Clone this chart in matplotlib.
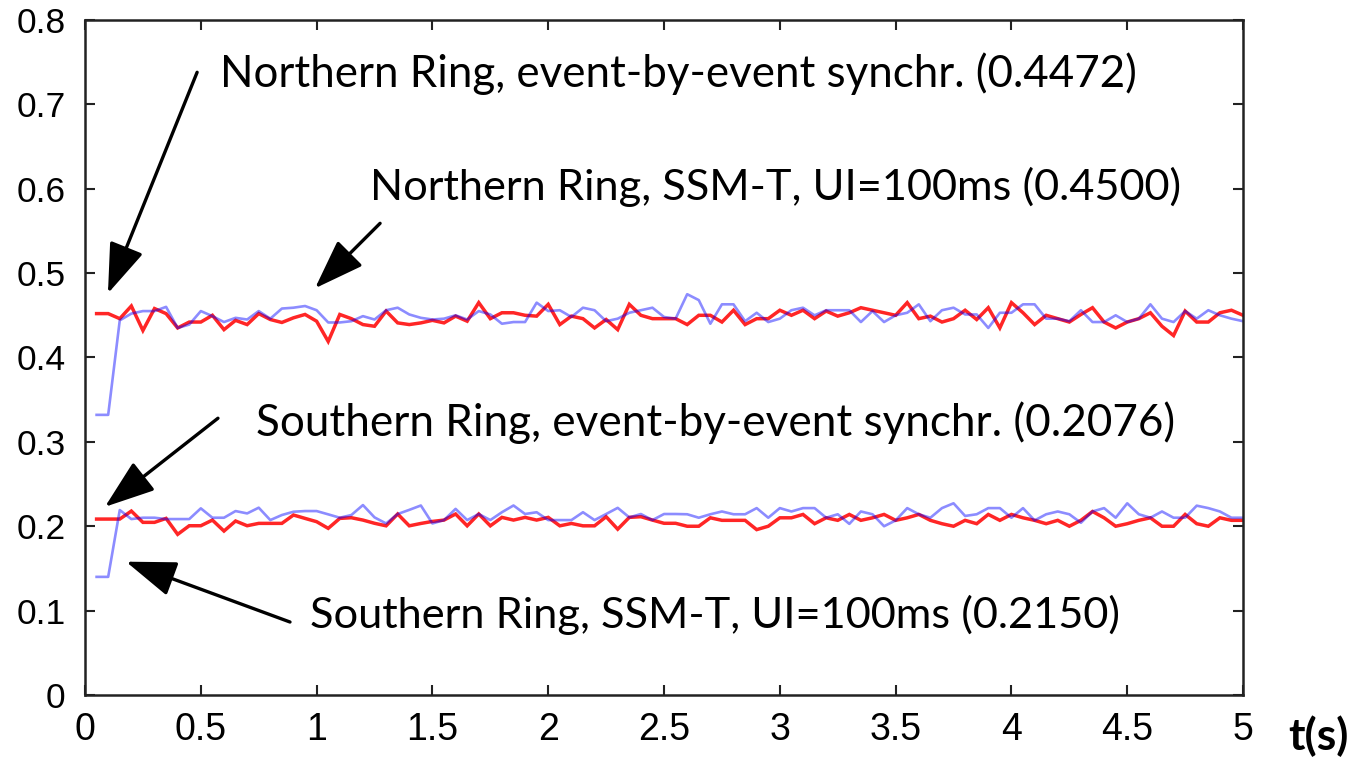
import numpy as np
import matplotlib
matplotlib.use("Agg")
import matplotlib.pyplot as plt

# time axis: samples every 0.05 s
t = np.arange(1, 101) * 0.05

north_event = [
    0.452, 0.452, 0.446, 0.461, 0.432, 0.458, 0.452, 0.435, 0.442, 0.442,
    0.450, 0.433, 0.444, 0.439, 0.452, 0.445, 0.4415, 0.447, 0.451, 0.443,
    0.419, 0.451, 0.446, 0.439, 0.437, 0.455, 0.441, 0.439, 0.441, 0.444,
    0.441, 0.449, 0.443, 0.465, 0.446, 0.453, 0.453, 0.450, 0.449, 0.463,
    0.439, 0.449, 0.446, 0.435, 0.445, 0.433, 0.463, 0.450, 0.446, 0.446,
    0.446, 0.439, 0.450, 0.450, 0.442, 0.456, 0.439, 0.446, 0.446, 0.456,
    0.450, 0.456, 0.446, 0.455, 0.449, 0.453, 0.459, 0.456, 0.453, 0.450,
    0.465, 0.446, 0.449, 0.442, 0.446, 0.456, 0.445, 0.459, 0.435, 0.465,
    0.453, 0.439, 0.450, 0.446, 0.442, 0.451, 0.459, 0.442, 0.435, 0.442,
    0.446, 0.453, 0.437, 0.426, 0.455, 0.442, 0.442, 0.453, 0.456, 0.450,
]
north_ssmt = [
    0.332, 0.332, 0.444, 0.452, 0.455, 0.455, 0.460, 0.435, 0.439, 0.455,
    0.449, 0.442, 0.447, 0.445, 0.455, 0.446, 0.458, 0.459, 0.461, 0.456,
    0.4415, 0.4415, 0.443, 0.449, 0.445, 0.456, 0.459, 0.451, 0.447, 0.445,
    0.446, 0.450, 0.445, 0.455, 0.451, 0.440, 0.442, 0.442, 0.465, 0.455,
    0.456, 0.448, 0.459, 0.456, 0.443, 0.446, 0.453, 0.456, 0.459, 0.448,
    0.446, 0.475, 0.468, 0.440, 0.463, 0.463, 0.443, 0.453, 0.442, 0.446,
    0.456, 0.459, 0.450, 0.456, 0.456, 0.456, 0.442, 0.455, 0.442, 0.450,
    0.453, 0.463, 0.443, 0.456, 0.459, 0.451, 0.451, 0.435, 0.453, 0.453,
    0.463, 0.463, 0.446, 0.446, 0.443, 0.456, 0.442, 0.442, 0.450, 0.442,
    0.446, 0.463, 0.446, 0.442, 0.455, 0.446, 0.456, 0.450, 0.446, 0.443,
]
south_event = [
    0.2085, 0.2085, 0.2085, 0.218, 0.2046, 0.2046, 0.2093, 0.1904, 0.2006, 0.2006,
    0.2073, 0.1943, 0.2062, 0.2006, 0.2034, 0.2034, 0.2034, 0.2133, 0.2093, 0.2054,
    0.1975, 0.2093, 0.2101, 0.2073, 0.2035, 0.2005, 0.2145, 0.2005, 0.2033, 0.2057,
    0.2073, 0.2145, 0.2005, 0.2145, 0.2005, 0.2105, 0.2073, 0.2105, 0.2073, 0.2105,
    0.2005, 0.2033, 0.2005, 0.2005, 0.2113, 0.1965, 0.2105, 0.2113, 0.2073, 0.2035,
    0.2035, 0.200, 0.200, 0.210, 0.207, 0.207, 0.207, 0.196, 0.200, 0.210,
    0.210, 0.214, 0.203, 0.210, 0.207, 0.214, 0.207, 0.210, 0.214, 0.207,
    0.210, 0.214, 0.207, 0.203, 0.200, 0.207, 0.203, 0.214, 0.207, 0.214,
    0.210, 0.207, 0.203, 0.207, 0.200, 0.207, 0.2175, 0.210, 0.200, 0.203,
    0.207, 0.210, 0.200, 0.200, 0.214, 0.203, 0.200, 0.210, 0.207, 0.207,
]
south_ssmt = [
    0.140, 0.140, 0.2192, 0.2085, 0.2101, 0.2101, 0.2085, 0.2085, 0.2085, 0.2212,
    0.2101, 0.2101, 0.218, 0.2152, 0.222, 0.2073, 0.2133, 0.2172, 0.218, 0.218,
    0.2141, 0.2101, 0.2133, 0.2251, 0.2105, 0.2033, 0.2145, 0.2194, 0.2246, 0.2033,
    0.2073, 0.2206, 0.2073, 0.2145, 0.2073, 0.2166, 0.2246, 0.2145, 0.2166, 0.2073,
    0.2073, 0.2073, 0.2166, 0.2073, 0.2145, 0.2218, 0.2105, 0.2145, 0.2073, 0.2145,
    0.2145, 0.2142, 0.2101, 0.2142, 0.2175, 0.2142, 0.2142, 0.2215, 0.2101, 0.2215,
    0.2175, 0.2215, 0.2215, 0.2101, 0.2142, 0.2028, 0.2175, 0.2142, 0.200, 0.2069,
    0.2215, 0.2142, 0.2101, 0.2215, 0.2272, 0.2122, 0.2142, 0.2215, 0.2215, 0.2101,
    0.2215, 0.2069, 0.2142, 0.2175, 0.2142, 0.2041, 0.2175, 0.2215, 0.2101, 0.2272,
    0.2142, 0.2101, 0.2175, 0.2101, 0.2101, 0.2244, 0.2215, 0.2175, 0.2101, 0.2101,
]

x_ticks = [0, 0.5, 1, 1.5, 2, 2.5, 3, 3.5, 4, 4.5, 5]
x_ticklabels = ["0", "0.5", "1", "1.5", "2", "2.5", "3", "3.5", "4", "4.5", "5"]
y_ticks = [0, 0.1, 0.2, 0.3, 0.4, 0.5, 0.6, 0.7, 0.8]
y_ticklabels = ["0", "0.1", "0.2", "0.3", "0.4", "0.5", "0.6", "0.7", "0.8"]

labels = [
    "Northern Ring, event-by-event synchr. (0.4472)",
    "Northern Ring, SSM-T, UI=100ms (0.4500)",
    "Southern Ring, event-by-event synchr. (0.2076)",
    "Southern Ring, SSM-T, UI=100ms (0.2150)",
]
# (text x, text baseline y) and (arrow start, arrow tip) in data units
text_pos = [(0.583, 0.720), (1.231, 0.5865), (0.738, 0.307), (0.971, 0.079)]
arrow_start = [(0.484, 0.738), (1.274, 0.559), (0.574, 0.328), (0.885, 0.0865)]
arrow_tip = [(0.099, 0.476), (0.993, 0.482), (0.086, 0.223), (0.177, 0.158)]

fig = plt.figure(figsize=(13.56, 7.65), dpi=100)
ax = fig.add_axes([0.0627, 0.0915, 0.9167 - 0.0627, 0.9739 - 0.0915])

red_kw = dict(color="#ff0000", lw=2.5, alpha=0.85, solid_joinstyle="miter")
blue_kw = dict(color="#0000ff", lw=1.9, alpha=0.45)
ax.plot(t, north_event, **red_kw)
ax.plot(t, south_event, **red_kw)
ax.plot(t, north_ssmt, **blue_kw)
ax.plot(t, south_ssmt, **blue_kw)

ax.set_xlim(0, 5)
ax.set_ylim(0, 0.8)
ax.set_xticks(x_ticks)
ax.set_xticklabels(x_ticklabels, fontfamily="Liberation Sans", fontsize=27)
ax.set_yticks(y_ticks)
ax.set_yticklabels(y_ticklabels, fontfamily="Liberation Sans", fontsize=25.5)
ax.tick_params(axis="both", direction="in", length=7, width=1.5, color="#222222",
               top=True, right=True)
ax.tick_params(axis="x", pad=12)
ax.tick_params(axis="y", pad=14)
for s in ax.spines.values():
    s.set_linewidth(1.8)
    s.set_color("#222222")

sizes = [31.6, 31.2, 31.7, 31.2]
for lab, tp, a0, a1, fs in zip(labels, text_pos, arrow_start, arrow_tip, sizes):
    ax.text(tp[0], tp[1], lab, fontfamily="Lato", fontsize=fs, va="baseline",
            ha="left", color="black")
    ax.annotate("", xy=a1, xytext=a0,
                arrowprops=dict(arrowstyle="-|>,head_length=3.1,head_width=1.1",
                                mutation_scale=10, lw=2.4, color="black",
                                shrinkA=0, shrinkB=0))

ax.text(1.039, -0.0815, "t(s)", transform=ax.transAxes, fontfamily="Lato",
        fontweight="bold", fontsize=32, va="baseline", ha="left")

fig.savefig("out.png", dpi=100)
